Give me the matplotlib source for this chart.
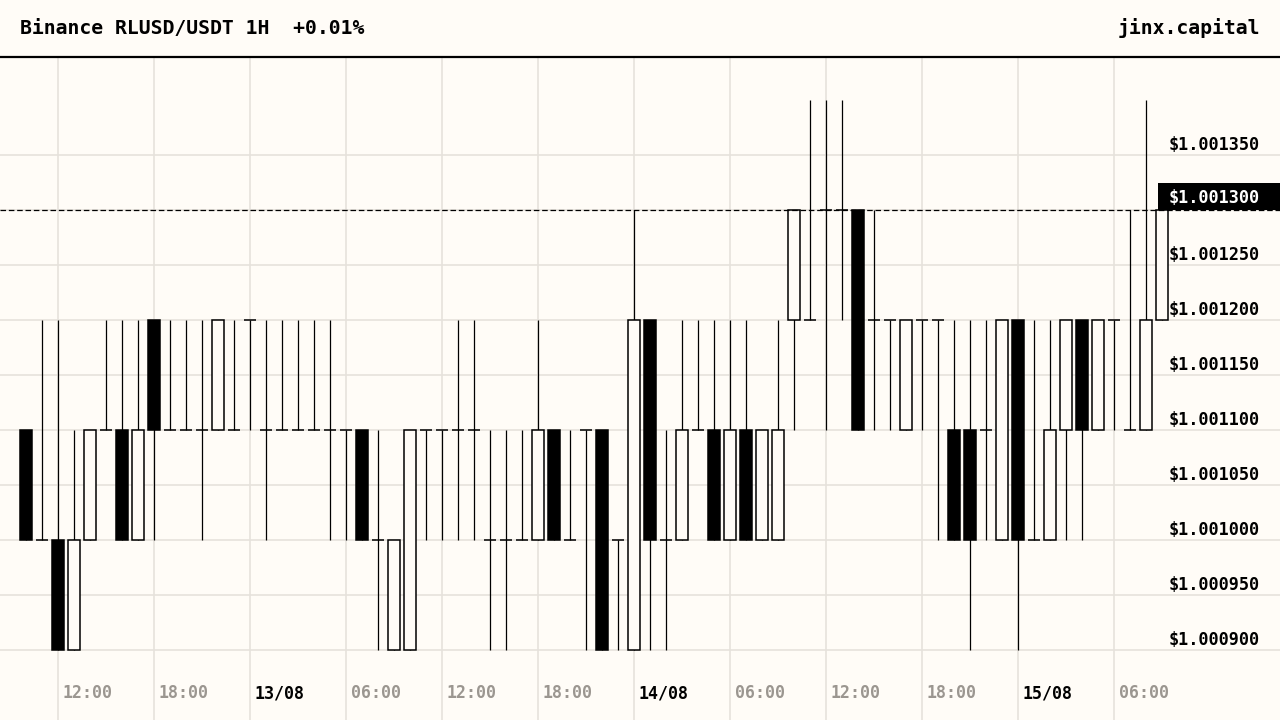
import numpy as np
import pandas as pd
import matplotlib
matplotlib.use("Agg")
import matplotlib.pyplot as plt
import matplotlib.transforms as mtransforms
from matplotlib.patches import Rectangle

# hourly candles, 12/08 10:00 -> 15/08 09:00
times = pd.date_range("2025-08-12 10:00", periods=72, freq="h")

opens = [1.0011, 1.0010, 1.0010, 1.0009, 1.0010, 1.0011, 1.0011, 1.0010, 1.0012, 1.0011,
         1.0011, 1.0011, 1.0011, 1.0011, 1.0012, 1.0011, 1.0011, 1.0011, 1.0011, 1.0011,
         1.0011, 1.0011, 1.0010, 1.0009, 1.0009, 1.0011, 1.0011, 1.0011, 1.0011, 1.0010,
         1.0010, 1.0010, 1.0010, 1.0011, 1.0010, 1.0011, 1.0011, 1.0010, 1.0009, 1.0012,
         1.0010, 1.0010, 1.0011, 1.0011, 1.0010, 1.0011, 1.0010, 1.0010, 1.0012, 1.0012,
         1.0013, 1.0013, 1.0013, 1.0012, 1.0012, 1.0011, 1.0012, 1.0012, 1.0011, 1.0011,
         1.0011, 1.0010, 1.0012, 1.0010, 1.0010, 1.0011, 1.0012, 1.0011, 1.0012, 1.0011,
         1.0011, 1.0012]
highs = [1.0011, 1.0012, 1.0012, 1.0011, 1.0011, 1.0012, 1.0012, 1.0012, 1.0012, 1.0012,
         1.0012, 1.0012, 1.0012, 1.0012, 1.0012, 1.0012, 1.0012, 1.0012, 1.0012, 1.0012,
         1.0011, 1.0011, 1.0011, 1.0010, 1.0011, 1.0011, 1.0011, 1.0012, 1.0012, 1.0011,
         1.0011, 1.0011, 1.0012, 1.0011, 1.0011, 1.0011, 1.0011, 1.0010, 1.0013, 1.0012,
         1.0011, 1.0012, 1.0012, 1.0012, 1.0012, 1.0012, 1.0011, 1.0012, 1.0013, 1.0014,
         1.0014, 1.0014, 1.0013, 1.0013, 1.0012, 1.0012, 1.0012, 1.0012, 1.0012, 1.0012,
         1.0012, 1.0012, 1.0012, 1.0012, 1.0012, 1.0012, 1.0012, 1.0012, 1.0012, 1.0013,
         1.0014, 1.0013]
lows = [1.0010, 1.0010, 1.0009, 1.0009, 1.0010, 1.0011, 1.0010, 1.0010, 1.0010, 1.0011,
        1.0011, 1.0010, 1.0011, 1.0011, 1.0011, 1.0010, 1.0011, 1.0011, 1.0011, 1.0010,
        1.0010, 1.0010, 1.0009, 1.0009, 1.0009, 1.0010, 1.0010, 1.0010, 1.0010, 1.0009,
        1.0009, 1.0010, 1.0010, 1.0010, 1.0010, 1.0009, 1.0009, 1.0009, 1.0009, 1.0009,
        1.0009, 1.0010, 1.0011, 1.0010, 1.0010, 1.0010, 1.0010, 1.0010, 1.0011, 1.0012,
        1.0011, 1.0012, 1.0011, 1.0011, 1.0011, 1.0011, 1.0011, 1.0010, 1.0010, 1.0009,
        1.0010, 1.0010, 1.0009, 1.0010, 1.0010, 1.0010, 1.0010, 1.0011, 1.0011, 1.0011,
        1.0011, 1.0012]
closes = [1.0010, 1.0010, 1.0009, 1.0010, 1.0011, 1.0011, 1.0010, 1.0011, 1.0011, 1.0011,
          1.0011, 1.0011, 1.0012, 1.0011, 1.0012, 1.0011, 1.0011, 1.0011, 1.0011, 1.0011,
          1.0011, 1.0010, 1.0010, 1.0010, 1.0011, 1.0011, 1.0011, 1.0011, 1.0011, 1.0010,
          1.0010, 1.0010, 1.0011, 1.0010, 1.0010, 1.0011, 1.0009, 1.0010, 1.0012, 1.0010,
          1.0010, 1.0011, 1.0011, 1.0010, 1.0011, 1.0010, 1.0011, 1.0011, 1.0013, 1.0012,
          1.0013, 1.0013, 1.0011, 1.0012, 1.0012, 1.0012, 1.0012, 1.0012, 1.0010, 1.0010,
          1.0011, 1.0012, 1.0010, 1.0010, 1.0011, 1.0012, 1.0011, 1.0012, 1.0012, 1.0011,
          1.0012, 1.0013]

price_levels = [1.00090, 1.00095, 1.00100, 1.00105, 1.00110, 1.00115,
                1.00120, 1.00125, 1.00130, 1.00135]
last_price = 1.0013
title = "Binance RLUSD/USDT 1H  +0.01%"
brand = "jinx.capital"

BG = "#fffcf7"
GRID = "#e6e2dc"
GRAY = "#9b9690"
MONO = "DejaVu Sans Mono"
plt.rcParams["lines.scale_dashes"] = False

fig = plt.figure(figsize=(12.8, 7.2), dpi=100, facecolor=BG)
ax = fig.add_axes([0, 0, 1, 1 - 57 / 720])
ax.set_facecolor(BG)
for s in ax.spines.values():
    s.set_visible(False)
ax.set_xticks([])
ax.set_yticks([])

x = np.arange(len(times))
o = np.array(opens); h = np.array(highs); l = np.array(lows); c = np.array(closes)
w = 0.75

# 16 px per candle, 110 px per 0.0001
px_y = 1e-4 / 110
ax.set_xlim(-26 / 16, (1280 - 26) / 16)
ax.set_ylim(1.0009 - 70 * px_y, 1.0014 + 43 * px_y)

# grid
for p in price_levels:
    ax.axhline(p, color=GRID, lw=1.2, zorder=0)
six = [i for i, t in enumerate(times) if t.hour % 6 == 0]
for i in six:
    ax.axvline(i, color=GRID, lw=1.2, zorder=0)

# wicks
ax.vlines(x, l, h, color="black", lw=0.9, zorder=2)

up = c > o
down = c < o
flat = c == o
ax.bar(x[up], (c - o)[up], bottom=o[up], width=w, facecolor=BG,
       edgecolor="black", lw=1.1, zorder=3)
ax.bar(x[down], (o - c)[down], bottom=c[down], width=w, facecolor="black",
       edgecolor="black", lw=1.1, zorder=3)
ax.hlines(o[flat], x[flat] - w / 2, x[flat] + w / 2, color="black", lw=1.1, zorder=3)

# last price line
ax.axhline(last_price, color="black", lw=0.9, dashes=(4, 2), zorder=4)

# price labels
ytrans = mtransforms.blended_transform_factory(ax.transAxes, ax.transData)
for p in price_levels:
    if p == last_price:
        continue
    ax.text(1260 / 1280, p + 5 * px_y, f"${p:.6f}", transform=ytrans, ha="right",
            va="baseline", fontsize=12.2, fontweight="bold", family=MONO,
            color="black", zorder=6)
ax.add_patch(Rectangle((1158 / 1280, last_price), 1 - 1158 / 1280, 27 * px_y,
                       transform=ytrans, facecolor="black", edgecolor="none",
                       zorder=5, clip_on=False))
ax.text(1260 / 1280, last_price + 7 * px_y, f"${last_price:.6f}", transform=ytrans,
        ha="right", va="baseline", fontsize=12.2, fontweight="bold", family=MONO,
        color="white", zorder=6)

# time labels
xtrans = mtransforms.blended_transform_factory(ax.transData, ax.transAxes)
offset = mtransforms.ScaledTranslation(5 / 100, 0, fig.dpi_scale_trans)
for i in six:
    t = times[i]
    if t.hour == 0:
        lab, col = t.strftime("%d/%m"), "black"
    else:
        lab, col = t.strftime("%H:%M"), GRAY
    ax.text(i, (720 - 693) / 663, lab, transform=xtrans + offset, ha="left",
            va="center", fontsize=12, fontweight="bold", family=MONO, color=col)

# header
fig.text(20 / 1280, 1 - 28 / 720, title, ha="left", va="center", fontsize=14.2,
         fontweight="bold", family=MONO, color="black")
fig.text(1260 / 1280, 1 - 28 / 720, brand, ha="right", va="center", fontsize=14.2,
         fontweight="bold", family=MONO, color="black")
fig.add_artist(plt.Line2D([0, 1], [1 - 57 / 720, 1 - 57 / 720], color="black", lw=1.6,
                          transform=fig.transFigure))

fig.savefig("out.png", dpi=100, facecolor=BG)
